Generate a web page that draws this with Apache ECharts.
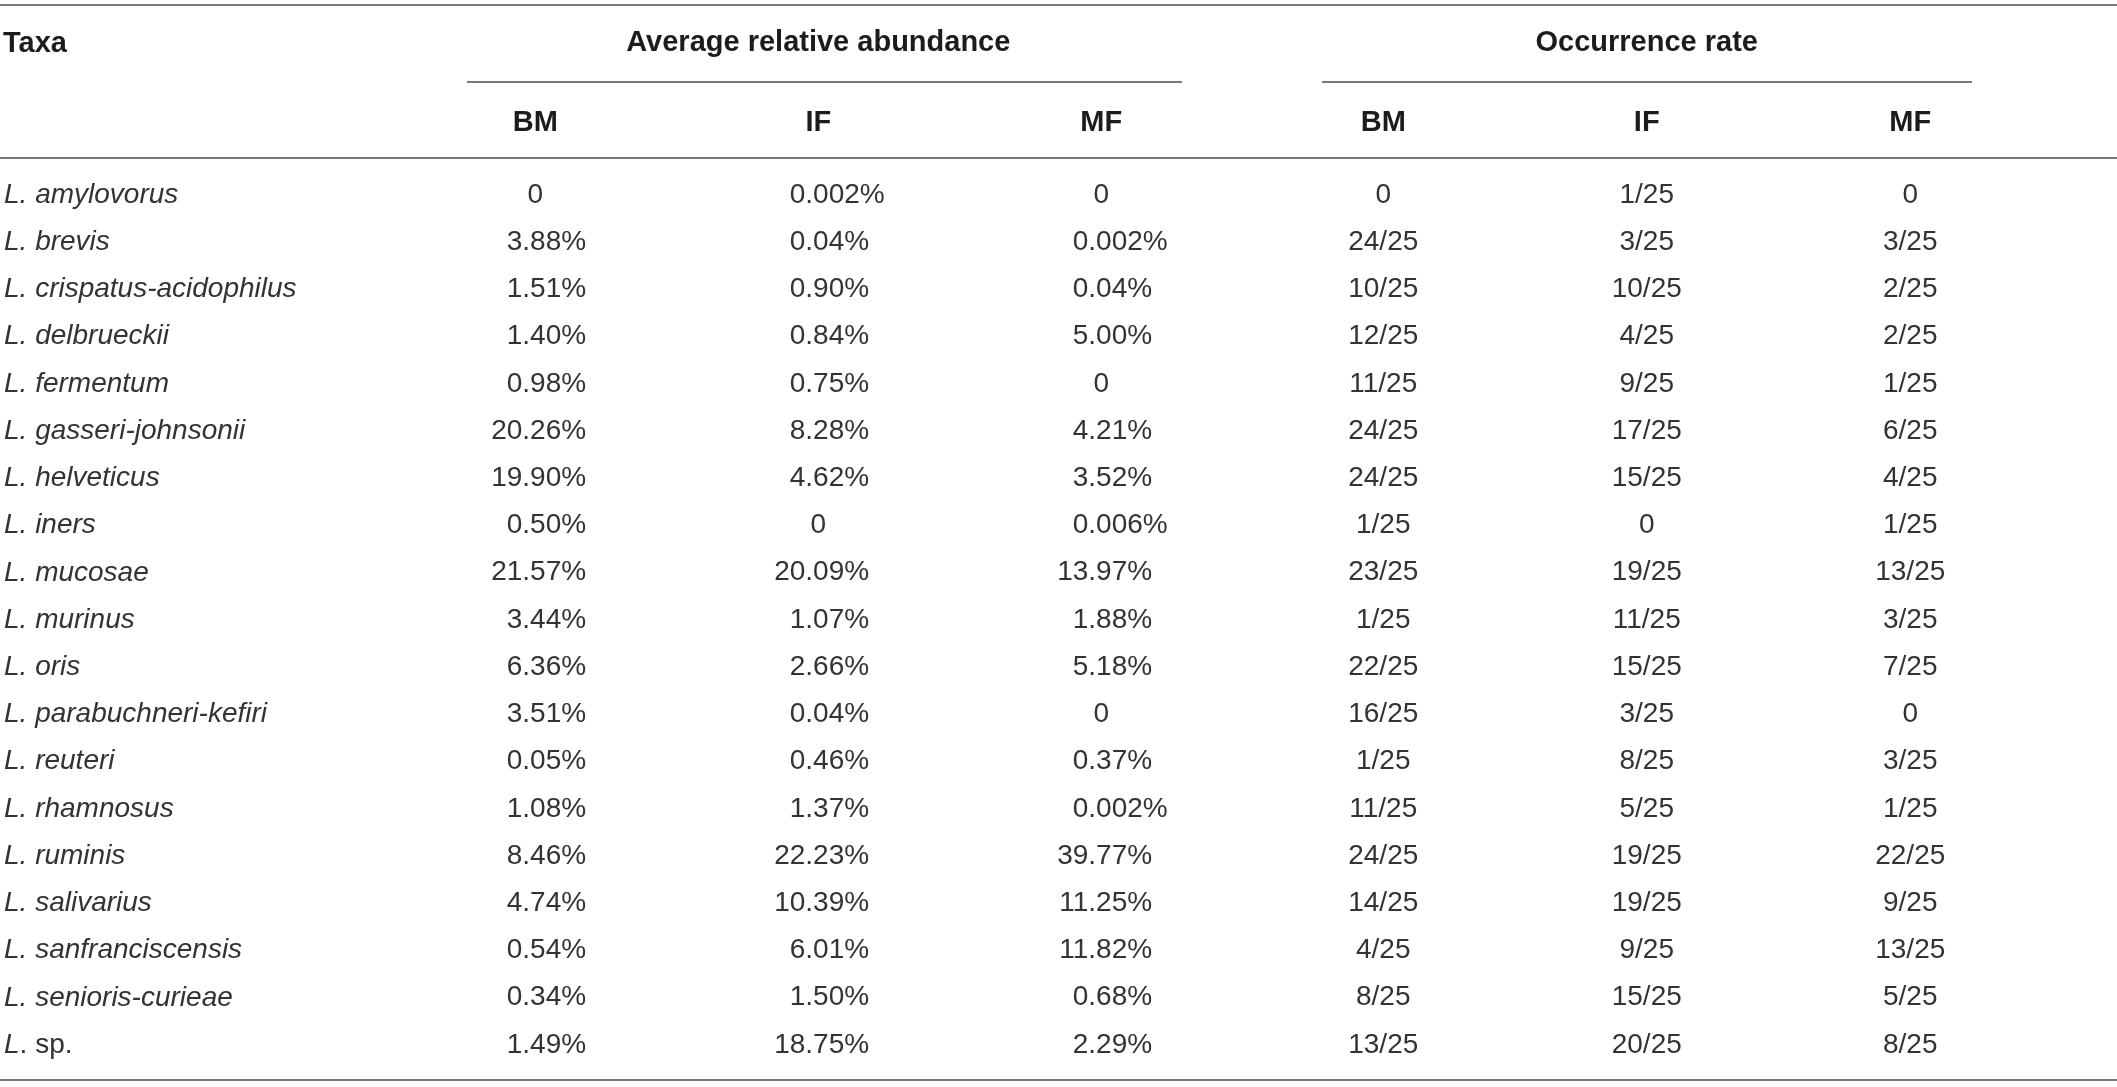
<!DOCTYPE html>
<html>
<head>
<meta charset="utf-8">
<script src="https://cdn.jsdelivr.net/npm/echarts@6/dist/echarts.min.js"></script>
<style>
  html, body { margin: 0; padding: 0; background: #fff; }
  #table { width: 2117px; height: 1087px; }
</style>
</head>
<body>
<div id="table"></div>
<script>
// table contents
const taxa = ['L. amylovorus', 'L. brevis', 'L. crispatus-acidophilus', 'L. delbrueckii', 'L. fermentum',
    'L. gasseri-johnsonii', 'L. helveticus', 'L. iners', 'L. mucosae', 'L. murinus', 'L. oris',
    'L. parabuchneri-kefiri', 'L. reuteri', 'L. rhamnosus', 'L. ruminis', 'L. salivarius',
    'L. sanfranciscensis', 'L. senioris-curieae', 'L. sp.'];
const groups = ['Average relative abundance', 'Occurrence rate'];
const subCols = ['BM', 'IF', 'MF'];

const abundBM = ['0', '3.88%', '1.51%', '1.40%', '0.98%', '20.26%', '19.90%', '0.50%', '21.57%', '3.44%',
    '6.36%', '3.51%', '0.05%', '1.08%', '8.46%', '4.74%', '0.54%', '0.34%', '1.49%'];
const abundIF = ['0.002%', '0.04%', '0.90%', '0.84%', '0.75%', '8.28%', '4.62%', '0', '20.09%', '1.07%',
    '2.66%', '0.04%', '0.46%', '1.37%', '22.23%', '10.39%', '6.01%', '1.50%', '18.75%'];
const abundMF = ['0', '0.002%', '0.04%', '5.00%', '0', '4.21%', '3.52%', '0.006%', '13.97%', '1.88%',
    '5.18%', '0', '0.37%', '0.002%', '39.77%', '11.25%', '11.82%', '0.68%', '2.29%'];

const occBM = ['0', '24/25', '10/25', '12/25', '11/25', '24/25', '24/25', '1/25', '23/25', '1/25',
    '22/25', '16/25', '1/25', '11/25', '24/25', '14/25', '4/25', '8/25', '13/25'];
const occIF = ['1/25', '3/25', '10/25', '4/25', '9/25', '17/25', '15/25', '0', '19/25', '11/25',
    '15/25', '3/25', '8/25', '5/25', '19/25', '19/25', '9/25', '15/25', '20/25'];
const occMF = ['0', '3/25', '2/25', '2/25', '1/25', '6/25', '4/25', '1/25', '13/25', '3/25',
    '7/25', '0', '3/25', '1/25', '22/25', '9/25', '13/25', '5/25', '8/25'];

const FONT = '"Liberation Sans", Arial, Helvetica, sans-serif';
const TXT = '#333333';
const HEAD = '#1c1c1c';
const RULE = '#7a7a7a';

const chart = echarts.init(document.getElementById('table'));

const abundCols = [abundBM, abundIF, abundMF];
const occCols = [occBM, occIF, occMF];

function cellData(cols) {
    const out = [];
    cols.forEach(function (col, c) {
        col.forEach(function (v, r) { out.push({ value: [c, r], text: v }); });
    });
    return out;
}
const abundData = cellData(abundCols);
const occData = cellData(occCols);

function textEl(x, y, text, align) {
    return {
        type: 'text', x: x, y: y,
        style: {
            text: text, align: align, verticalAlign: 'middle',
            fontSize: 28, fontFamily: FONT, fill: TXT
        }
    };
}

// values with a decimal point line up on it, plain "0" sits in the middle
function renderAbund(params, api) {
    const p = api.coord([api.value(0), api.value(1)]);
    const t = abundData[params.dataIndex].text;
    const dot = t.indexOf('.');
    if (dot < 0) return textEl(p[0], p[1], t, 'center');
    const ax = p[0] - 13;
    return {
        type: 'group',
        children: [textEl(ax, p[1], t.slice(0, dot), 'right'), textEl(ax, p[1], t.slice(dot), 'left')]
    };
}

function renderOcc(params, api) {
    const p = api.coord([api.value(0), api.value(1)]);
    return textEl(p[0], p[1], occData[params.dataIndex].text, 'center');
}

const gridTop = 171.4;
const gridHeight = 897.2;

function xAx(i, name) {
    return {
        type: 'category', gridIndex: i, position: 'top', data: subCols,
        name: name, nameLocation: 'middle', nameGap: 128.4,
        nameTextStyle: { fontSize: 29, fontWeight: 'bold', fontFamily: FONT, color: HEAD, verticalAlign: 'middle' },
        axisLine: { show: false }, axisTick: { show: false }, splitLine: { show: false },
        axisLabel: { fontSize: 29, fontWeight: 'bold', fontFamily: FONT, color: HEAD, margin: 48.4, verticalAlign: 'middle' }
    };
}

function yAx(i, showLabels) {
    return {
        type: 'category', gridIndex: i, inverse: true, data: taxa,
        axisLine: { show: false }, axisTick: { show: false }, splitLine: { show: false },
        axisLabel: {
            show: showLabels, align: 'left', margin: 389.8,
            fontSize: 28, fontFamily: FONT, color: TXT, fontStyle: 'italic',
            formatter: function (v) {
                return v === 'L. sp.' ? '{i|L}{n|. sp.}' : '{i|' + v + '}';
            },
            rich: {
                i: { fontSize: 28, fontFamily: FONT, color: TXT, fontStyle: 'italic' },
                n: { fontSize: 28, fontFamily: FONT, color: TXT, fontStyle: 'normal' }
            }
        }
    };
}

function hline(x1, x2, y) {
    return { type: 'line', shape: { x1: x1, y1: y, x2: x2, y2: y }, style: { stroke: RULE, lineWidth: 2 }, silent: true };
}

const option = {
    backgroundColor: '#ffffff',
    animation: false,
    title: {
        text: 'Taxa', left: 3, top: 29.5, padding: 0,
        textStyle: { fontSize: 29, fontWeight: 'bold', fontFamily: FONT, color: HEAD }
    },
    grid: [
        { left: 393.8, width: 849, top: gridTop, height: gridHeight },
        { left: 1251.5, width: 790.5, top: gridTop, height: gridHeight }
    ],
    xAxis: [xAx(0, groups[0]), xAx(1, groups[1])],
    yAxis: [yAx(0, true), yAx(1, false)],
    series: [
        { type: 'custom', xAxisIndex: 0, yAxisIndex: 0, data: abundData, renderItem: renderAbund, silent: true },
        { type: 'custom', xAxisIndex: 1, yAxisIndex: 1, data: occData, renderItem: renderOcc, silent: true }
    ],
    graphic: [
        hline(0, 2117, 5),
        hline(467, 1182, 82),
        hline(1322, 1972, 82),
        hline(0, 2117, 158),
        hline(0, 2117, 1080)
    ]
};

option && chart.setOption(option);
</script>
</body>
</html>
